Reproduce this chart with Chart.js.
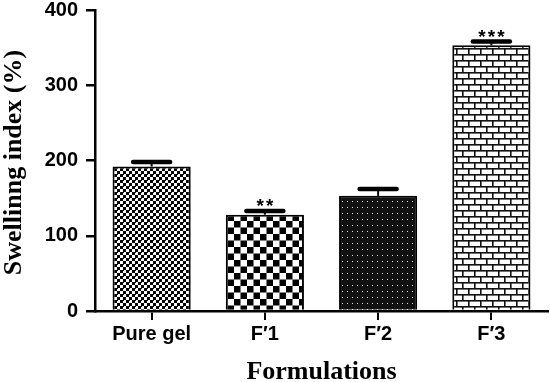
<!DOCTYPE html>
<html><head><meta charset="utf-8">
<script src="https://cdn.jsdelivr.net/npm/chart.js@4.4.1/dist/chart.umd.min.js"></script>
<style>html,body{margin:0;padding:0;background:#fff}#wrap{width:550px;height:382px}</style>
</head><body><div id="wrap"><canvas id="c" width="550" height="382"></canvas></div>
<script>
const categories = ["Pure gel", "F\u20321", "F\u20322", "F\u20323"];
const swellingIndex = [192, 128, 153, 353];
const errorValues = [6, 5, 9, 5];
const significance = ["", "**", "", "***"];
const yTicks = [0, 100, 200, 300, 400];
const xTitle = "Formulations";
const yTitle = "Swellinng index (%)";

function makePattern(w, h, draw) {
  const c = document.createElement('canvas');
  c.width = w; c.height = h;
  const g = c.getContext('2d');
  draw(g, w, h);
  return document.getElementById('c').getContext('2d').createPattern(c, 'repeat');
}
const fineChecker = makePattern(6, 6, (g) => {
  g.fillStyle = '#fff'; g.fillRect(0,0,6,6);
  g.fillStyle = '#000'; g.fillRect(0,0,3,3); g.fillRect(3,3,3,3);
  g.fillStyle = '#222'; g.fillRect(3,0,1,1);
});
const coarseChecker = makePattern(13, 13, (g) => {
  g.fillStyle = '#fff'; g.fillRect(0,0,13,13);
  g.fillStyle = '#000'; g.fillRect(0,0,6.5,6.5); g.fillRect(6.5,6.5,6.5,6.5);
});
const dotted = makePattern(5, 6, (g) => {
  g.fillStyle = '#111'; g.fillRect(0,0,5,6);
  g.fillStyle = '#ddd'; g.fillRect(2,3,1,1);
});
const bricks = makePattern(12, 12, (g) => {
  g.fillStyle = '#fff'; g.fillRect(0,0,12,12);
  g.fillStyle = '#111';
  g.fillRect(0,0,12,1.6); g.fillRect(0,6,12,1.6);
  g.fillRect(0,0,1.6,6); g.fillRect(6,6,1.6,6);
});

const errorPlugin = {
  id: 'errorBars',
  afterDatasetsDraw(chart) {
    const ctx = chart.ctx;
    const meta = chart.getDatasetMeta(0);
    const ys = chart.scales.y;
    ctx.save();
    meta.data.forEach((bar, i) => {
      const top = ys.getPixelForValue(swellingIndex[i] + errorValues[i]);
      const x = bar.x;
      ctx.strokeStyle = '#000';
      ctx.lineWidth = 2;
      ctx.beginPath(); ctx.moveTo(x, bar.y); ctx.lineTo(x, top); ctx.stroke();
      ctx.lineWidth = 4.5; ctx.lineCap = 'round';
      ctx.beginPath(); ctx.moveTo(x - 18.5, top); ctx.lineTo(x + 18.5, top); ctx.stroke();
      ctx.lineCap = 'butt';
      const stars = significance[i];
      if (stars) {
        ctx.fillStyle = '#000';
        ctx.font = 'bold 19px "Liberation Sans", Arial, sans-serif';
        ctx.textAlign = 'center'; ctx.textBaseline = 'alphabetic';
        const n = stars.length, gap = 9.5;
        for (let k = 0; k < n; k++) {
          ctx.fillText('*', x + (k - (n - 1) / 2) * gap, top + 1);
        }
      }
    });
    ctx.restore();
  }
};

const titlePlugin = {
  id: 'axisTitles',
  afterDraw(chart) {
    const ctx = chart.ctx, a = chart.chartArea;
    ctx.save();
    ctx.fillStyle = '#000';
    ctx.font = 'bold 26px "Liberation Serif", "Times New Roman", serif';
    ctx.textAlign = 'center';
    ctx.textBaseline = 'alphabetic';
    ctx.fillText(xTitle, (a.left + a.right) / 2, 379);
    ctx.translate(21, (a.top + a.bottom) / 2 + 2);
    ctx.rotate(-Math.PI / 2);
    ctx.fillText(yTitle, 0, 0);
    ctx.restore();
  }
};

new Chart(document.getElementById('c'), {
  type: 'bar',
  data: {
    labels: categories,
    datasets: [{
      data: swellingIndex,
      backgroundColor: [fineChecker, coarseChecker, dotted, bricks],
      borderColor: '#000',
      borderWidth: 2,
      borderSkipped: 'bottom',
      barPercentage: 0.69,
      categoryPercentage: 1.0
    }]
  },
  plugins: [errorPlugin, titlePlugin],
  options: {
    responsive: false,
    animation: false,
    devicePixelRatio: 1,
    layout: { padding: { top: 10, right: 2, left: 0, bottom: 0 } },
    plugins: { legend: { display: false }, tooltip: { enabled: false } },
    scales: {
      x: {
        offset: true,
        grid: { display: true, drawOnChartArea: false, offset: false, color: '#000', lineWidth: 2, tickLength: 9 },
        border: { display: true, color: '#000', width: 2.5 },
        ticks: { color: '#000', font: { family: '"Liberation Sans", Arial, sans-serif', size: 20, weight: 'bold' }, padding: 2 },
        afterFit(s) { s.height = 71; s.paddingLeft = 0; s.paddingRight = 0; }
      },
      y: {
        min: 0, max: 400,
        afterBuildTicks(s) { s.ticks = yTicks.map(v => ({ value: v })); },
        grid: { display: true, drawOnChartArea: false, color: '#000', lineWidth: 2.5, tickLength: 9 },
        border: { display: true, color: '#000', width: 2.5 },
        ticks: { color: '#000', font: { family: '"Liberation Sans", Arial, sans-serif', size: 20, weight: 'bold' }, padding: 8 },
        afterFit(s) { s.width = 95; s.paddingTop = 0; s.paddingBottom = 0; }
      }
    }
  }
});
</script></body></html>
